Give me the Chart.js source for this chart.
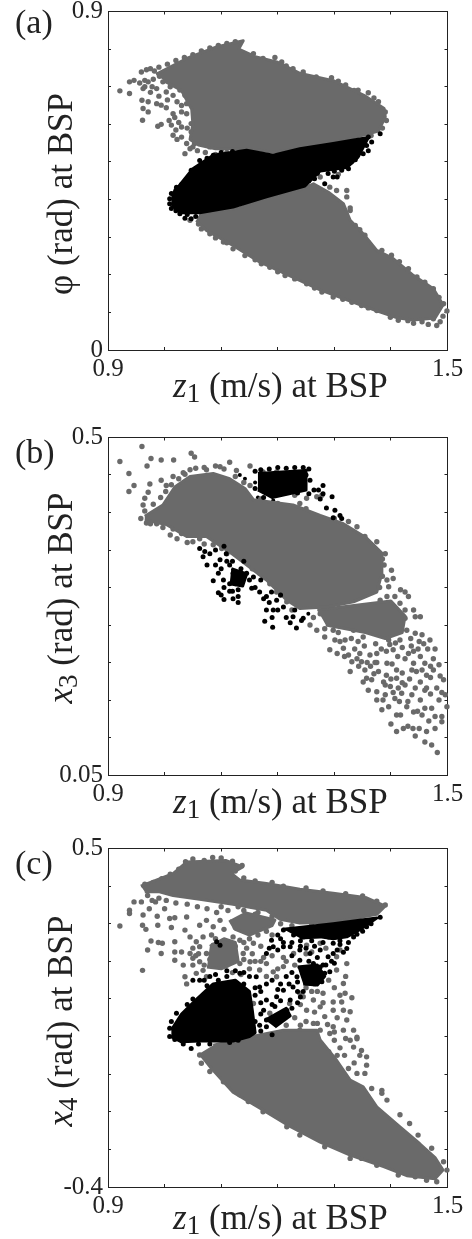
<!DOCTYPE html>
<html><head><meta charset="utf-8">
<style>
html,body{margin:0;padding:0;background:#fff}
#page{position:relative;width:472px;height:1239px;overflow:hidden;font-family:"Liberation Serif",serif;color:#222}
canvas{position:absolute;left:0}
.t{position:absolute;white-space:nowrap;line-height:1}
.tag{font-size:34px;left:15px}
.xt{font-size:35px;left:173px}
.yt{font-size:35px;transform:translate(-50%,-50%) rotate(-90deg);left:60px}
sub{font-size:27px;line-height:0;vertical-align:-5px;font-style:normal}
</style></head><body>
<div id="page">
<canvas id="ca" width="472" height="410" style="top:0"></canvas>
<canvas id="cb" width="472" height="410" style="top:410px"></canvas>
<canvas id="cc" width="472" height="409" style="top:830px"></canvas>
<div class="t tag" style="top:5px">(a)</div>
<div class="t tag" style="top:435px">(b)</div>
<div class="t tag" style="top:846px">(c)</div>
<div class="t xt" style="top:368px"><i>z</i><sub>1</sub> (m/s) at BSP</div>
<div class="t xt" style="top:784px"><i>z</i><sub>1</sub> (m/s) at BSP</div>
<div class="t xt" style="top:1200px"><i>z</i><sub>1</sub> (m/s) at BSP</div>
<div class="t yt" style="top:194px">φ (rad) at BSP</div>
<div class="t yt" style="top:598px"><i>x</i><sub>3</sub> (rad) at BSP</div>
<div class="t yt" style="top:1021px"><i>x</i><sub>4</sub> (rad) at BSP</div>
</div>
<script src="https://cdn.jsdelivr.net/npm/chart.js@4"></script>
<script>
const xTickLabels=['0.9','1.5'];
const aTickLabels=['0','0.9'];
const bTickLabels=['0.05','0.5'];
const cTickLabels=['-0.4','0.5'];

/* ---------- panel (a) ---------- */
const aBlackAreas=[
 [[1.012,.411],[1.05,.482],[1.086,.518],[1.145,.531],[1.192,.518],[1.239,.535],[1.298,.549],[1.36,.565],[1.342,.513],[1.322,.485],[1.275,.476],[1.248,.436],[1.18,.407],[1.121,.38],[1.062,.365],[1.03,.365],[1.012,.385]]
];
const aBlackDots=[[1.381,.575],[1.366,.553],[1.357,.544],[1.36,.566],[1.351,.522],[1.337,.506],[1.325,.482],[1.313,.478],[1.298,.46],[1.283,.442],[1.289,.469],[1.012,.416],[1.009,.389],[1.012,.376],[1.027,.362],[1.047,.349],[1.021,.433],[1.047,.478],[1.062,.504],[1.086,.518],[1.33,.5],[1.345,.535],[1.265,.455],
 [1.02,.425],[1.03,.44],[1.04,.455],[1.055,.475],[1.065,.495],[1.075,.51],[1.1,.525],[1.12,.528],[1.02,.37],[1.04,.36],[1.055,.355],[1.35,.55],[1.34,.53],[1.33,.52],[1.31,.49],[1.3,.475],[1.27,.47],[1.255,.45],[1.24,.44],[1.017,.4],[1.009,.402],[1.036,.35],[1.315,.505],[1.36,.53],[1.305,.46]];
const aGrayAreas=[
 [[.985,.733],[1.039,.775],[1.092,.806],[1.139,.822],[1.131,.8],[1.16,.78],[1.2,.765],[1.24,.735],[1.3,.715],[1.355,.675],[1.388,.642],[1.39,.62],[1.378,.582],[1.328,.562],[1.298,.55],[1.239,.535],[1.192,.526],[1.15,.535],[1.09,.535],[1.06,.545],[1.045,.56],[1.05,.6],[1.048,.64],[1.03,.69],[1.0,.715]],
 [[1.062,.362],[1.133,.378],[1.18,.407],[1.239,.426],[1.263,.442],[1.289,.42],[1.316,.389],[1.328,.345],[1.351,.309],[1.375,.265],[1.404,.243],[1.44,.198],[1.475,.163],[1.492,.12],[1.478,.085],[1.44,.08],[1.41,.086],[1.375,.104],[1.328,.13],[1.275,.16],[1.216,.201],[1.168,.234],[1.121,.278],[1.074,.318],[1.056,.345]]
];
const aGrayDots=[[.921,.689],[.938,.682],[.938,.713],[.946,.717],[.959,.739],[.965,.717],[.956,.71],[.971,.713],[.962,.695],[.96,.664],[.971,.66],[.962,.642],[.971,.633],[.961,.611],[.988,.595],[.994,.6],[.986,.655],[.994,.651],[1.003,.644],[.986,.695],[.997,.713],[1.009,.717],[.991,.728],[1.015,.739],[1.003,.686],[1.015,.677],[1.027,.691],[1.036,.677],[1.045,.664],[1.05,.699],[1.056,.726],[1.068,.735],[1.027,.722],[1.062,.682],[1.068,.655],[1.077,.691],[1.086,.717],[1.098,.753],[1.109,.77],[1.121,.766],[1.133,.784],[1.157,.788],[1.174,.775],[1.195,.778],[1.207,.766],[1.227,.748],[1.245,.739],[1.268,.726],[1.295,.724],[1.307,.715],[1.342,.691],[1.36,.684],[1.378,.66],[1.39,.633],[1.015,.628],[1.018,.618],[1.03,.633],[1.03,.593],[1.039,.628],[1.047,.602],[1.015,.571],[1.03,.566],[1.047,.58],[1.039,.549],[1.036,.522],[1.053,.549],[1.068,.566],[1.062,.602],[1.077,.628],[1.086,.589],[1.095,.557],[1.08,.54],[1.101,.535],[1.115,.562],[1.118,.54],[1.092,.597],[1.056,.628],[1.077,.66],[1.056,.646],[1.039,.655],[1.086,.673],[1.098,.695],[1.121,.73],[1.145,.748],[1.157,.726],
 [1.065,.322],[1.08,.309],[1.104,.287],[1.121,.269],[1.142,.251],[1.171,.229],[1.186,.22],[1.213,.198],[1.23,.189],[1.251,.176],[1.278,.154],[1.298,.141],[1.331,.127],[1.348,.118],[1.375,.105],[1.399,.087],[1.413,.079],[1.44,.071],[1.466,.068],[1.481,.065],[1.475,.083],[1.499,.104],[1.493,.123],[1.475,.163],[1.446,.194],[1.431,.216],[1.401,.252],[1.384,.265],[1.354,.305],[1.337,.331],[1.328,.371],[1.304,.389],
 [1.292,.433],[1.304,.424],[1.322,.424],[1.322,.407],[1.31,.389],[1.328,.378],[1.289,.407],
 [1.127,.522],[1.174,.417],[1.074,.38],[1.275,.46],[1.307,.467],
 [.975,.748],[.99,.752],[1.005,.76],[1.02,.77],[1.035,.778],[1.05,.785],[1.065,.795],[1.08,.803],[1.095,.81],[1.11,.815],[1.125,.82],[1.12,.79],[1.105,.78],[1.15,.775],[1.17,.76],[1.19,.76],[1.215,.755],[1.26,.72],[1.285,.715],[1.32,.705],[1.335,.69],[1.37,.67],
 [.968,.745],[.982,.742],[1.0,.74],[.978,.7],[.975,.685],[.99,.675],[1.005,.665],[1.01,.7],[1.022,.66],[1.03,.65],[1.025,.605],[1.012,.598],[1.02,.585],[1.04,.59],[1.022,.56],[1.008,.61],[.98,.72],[.965,.7],[1.036,.7],[1.042,.73],[1.052,.755],[1.07,.765],[1.082,.75],
 [1.05,.54],[1.045,.535],[1.058,.53],[1.072,.525],[1.09,.52],[1.11,.525],[1.14,.525],[1.16,.525],[1.21,.52],[1.26,.53],[1.32,.55],[1.365,.57],[1.385,.59],[1.392,.61],
 [1.045,.345],[1.06,.335],[1.09,.298],[1.11,.285],[1.16,.24],[1.2,.208],[1.265,.165],[1.315,.135],[1.36,.112],[1.43,.078],[1.455,.075],[1.42,.09],[1.487,.075],[1.492,.09],[1.465,.09],[1.485,.14],[1.46,.18],[1.415,.235],[1.36,.285],[1.345,.32]];

/* ---------- panel (b) ---------- */
const bBlackAreas=[
 [[1.165,.452],[1.25,.456],[1.25,.43],[1.19,.42],[1.165,.43]],
 [[1.118,.325],[1.145,.318],[1.138,.302],[1.115,.305]]
];
const bBlackDots=[[1.086,.309],[1.095,.319],[1.098,.337],[1.071,.348],[1.062,.352],[1.068,.341],[1.109,.345],[1.115,.33],[1.121,.319],[1.104,.31],[1.095,.293],[1.105,.284],[1.121,.285],[1.13,.288],[1.13,.297],[1.115,.305],[1.133,.31],[1.145,.319],[1.157,.314],[1.154,.299],[1.168,.294],[1.18,.288],[1.189,.294],[1.198,.283],[1.18,.27],[1.192,.27],[1.21,.274],[1.227,.261],[1.245,.259],[1.177,.255],[1.191,.247],[1.222,.253],[1.233,.246],[1.242,.256],
 [1.257,.443],[1.264,.43],[1.272,.43],[1.28,.436],[1.28,.425],[1.296,.421],[1.286,.406],[1.301,.403],[1.31,.396],[1.313,.392],[1.275,.418],[1.298,.393],[1.255,.425],
 [1.09,.33],[1.1,.325],[1.11,.335],[1.105,.3],[1.115,.295],[1.125,.305],[1.135,.325],[1.14,.335],[1.1,.29],[1.12,.295],[1.13,.28],[1.16,.3],[1.17,.31],[1.175,.285],[1.185,.28],[1.205,.29],[1.2,.27],[1.215,.26],[1.19,.26],[1.23,.27],[1.15,.31],[1.08,.345],[1.075,.33],[1.09,.35],[1.105,.355],[1.12,.335],[1.13,.32],
 [1.16,.455],[1.17,.457],[1.185,.458],[1.2,.46],[1.215,.459],[1.23,.46],[1.245,.46],[1.255,.458],[1.25,.45],[1.245,.438],[1.175,.42],[1.16,.432],[1.205,.425],[1.22,.428],[1.235,.426]];
const bGrayAreas=[
 [[.965,.395],[.997,.41],[1.018,.434],[1.045,.448],[1.086,.452],[1.115,.445],[1.142,.432],[1.157,.417],[1.227,.41],[1.275,.396],[1.316,.385],[1.357,.366],[1.384,.346],[1.384,.319],[1.375,.294],[1.334,.281],[1.286,.274],[1.239,.272],[1.216,.283],[1.18,.31],[1.121,.344],[1.074,.368],[1.039,.368],[1.003,.384],[.965,.39]],
 [[1.27,.27],[1.4,.282],[1.425,.262],[1.42,.24],[1.39,.232],[1.355,.24],[1.32,.245],[1.285,.25]]
];
const bGrayDots=[[.96,.488],[.921,.468],[.976,.472],[.994,.47],[1.016,.47],[1.047,.479],[1.053,.474],[.969,.462],[.937,.452],[.946,.436],[.974,.438],[.994,.443],[.937,.428],[.971,.427],[1.003,.436],[.965,.419],[.962,.41],[1.015,.448],[1.033,.453],[1.045,.457],[1.074,.457],[1.098,.461],[1.115,.467],[1.151,.462],[1.127,.456],[1.151,.436],[1.174,.454],[1.198,.454],[1.213,.448],[1.204,.433],[1.222,.434],[1.18,.428],[1.23,.423],[1.269,.421],[1.278,.423],[1.251,.419],[1.239,.412],
 [.968,.386],[.986,.385],[.997,.38],[1.01,.37],[1.03,.372],[1.05,.361],[1.086,.357],[1.062,.365],[1.101,.352],[1.133,.341],[1.148,.332],[1.168,.319],[1.186,.305],[1.198,.294],[1.216,.281],[1.34,.381],[1.354,.368],[1.375,.361],[1.39,.345],
 [1.401,.323],[1.404,.312],[1.393,.31],[1.396,.301],[1.417,.297],[1.425,.294],[1.431,.288],[1.407,.288],[1.393,.288],[1.381,.283],[1.416,.279],[1.44,.27],[1.452,.261],[1.425,.27],[1.404,.27],[1.387,.27],[1.369,.265],[1.348,.265],[1.322,.27],[1.298,.265],[1.275,.265],[1.443,.261],[1.425,.259],[1.404,.259],[1.387,.259],[1.357,.259],
 [1.257,.25],[1.269,.243],[1.283,.234],[1.292,.217],[1.301,.23],[1.31,.228],[1.319,.23],[1.316,.219],[1.325,.21],[1.331,.201],[1.328,.188],[1.345,.212],[1.348,.201],[1.354,.19],[1.363,.21],[1.357,.179],[1.351,.174],[1.375,.212],[1.378,.188],[1.366,.177],[1.36,.163],[1.393,.199],[1.387,.174],[1.399,.168],[1.396,.23],[1.404,.217],[1.41,.19],[1.41,.179],[1.425,.205],[1.416,.23],[1.431,.212],[1.44,.199],[1.452,.208],[1.46,.199],[1.475,.205],[1.469,.23],[1.455,.237],[1.443,.239],[1.428,.243],[1.413,.241],[1.387,.239],[1.369,.241],[1.351,.234],[1.334,.243],[1.298,.243],[1.475,.19],[1.463,.183],[1.452,.174],[1.443,.166],[1.425,.17],[1.413,.166],[1.375,.15],[1.39,.157],[1.407,.152],[1.419,.159],[1.437,.157],[1.452,.15],[1.46,.139],[1.472,.139],[1.493,.177],[1.496,.157],[1.499,.141],[1.49,.128],[1.49,.121],[1.478,.112],[1.463,.108],[1.46,.094],[1.472,.09],[1.482,.08],[1.443,.102],[1.439,.112],[1.422,.112],[1.41,.108],[1.384,.137],[1.396,.141],[1.41,.13],[1.428,.141],[1.44,.134],[1.455,.13],[1.375,.161],[1.481,.166],[1.463,.166],
 [.965,.402],[.98,.411],[.993,.42],[1.002,.428],[1.012,.437],[1.025,.445],[1.036,.451],[1.055,.459],[1.07,.46],[1.09,.462],[1.105,.458],[1.125,.448],[1.14,.44],[.958,.392],[.975,.385],[1.015,.378],[1.022,.365],[1.04,.36],[1.07,.358],[1.11,.345],[1.155,.325],[1.205,.29],[1.225,.27],
 [1.17,.418],[1.2,.412],[1.25,.405],[1.3,.392],[1.325,.388],[1.385,.338],[1.388,.33],[1.385,.315],[1.38,.3],
 [1.19,.445],[1.225,.45],[1.24,.44],
 [1.263,.26],[1.283,.245],[1.307,.24],[1.342,.228],[1.305,.212],[1.343,.195],[1.372,.2],[1.383,.218],[1.402,.198],[1.408,.226],[1.436,.222],[1.448,.218],[1.465,.218],[1.478,.218],[1.458,.225],[1.485,.197],[1.487,.182],[1.445,.188],[1.433,.178],[1.42,.186],[1.392,.183],[1.404,.16],[1.386,.15],[1.43,.148],[1.47,.158],[1.485,.15],[1.447,.135],[1.417,.13],[1.4,.118],[1.43,.115],[1.467,.122],[1.49,.16],[1.45,.112],[1.415,.148],[1.364,.195],[1.336,.218],[1.318,.208],[1.47,.18],[1.46,.163],[1.478,.128],
 [1.33,.232],[1.353,.222],[1.373,.225],[1.392,.215],[1.412,.208],[1.375,.2],[1.398,.224],[1.44,.215],[1.42,.22],[1.435,.232],[1.45,.228],[1.34,.205],[1.358,.2],[1.37,.185],[1.39,.17],[1.4,.178],[1.42,.173],[1.437,.19],[1.455,.19],[1.47,.195]];
const bBlackFront=[[1.021,.399],[1.086,.394],[1.071,.393],[1.059,.405],[1.133,.401],[1.092,.448],[1.115,.441],[1.133,.45],[1.142,.445],[1.286,.297],[1.301,.308],[1.328,.305],[1.322,.293],[1.351,.274],[1.298,.274],[1.254,.265],[1.192,.416],[1.05,.41],[1.035,.4],[1.1,.405],[1.15,.41],[1.16,.44],[1.125,.425],[1.105,.435],[1.165,.42],[1.27,.28],[1.31,.285]];

/* ---------- panel (c) ---------- */
const cBlackAreas=[
 [[1.012,.017],[1.03,.06],[1.056,.098],[1.086,.14],[1.125,.15],[1.15,.12],[1.155,.07],[1.16,.01],[1.15,0],[1.121,-.012],[1.062,-.012],[1.03,-.014],[1.012,0]],
 [[1.21,.285],[1.298,.3],[1.375,.315],[1.348,.287],[1.322,.265],[1.298,.26],[1.275,.265],[1.239,.262]],
 [[1.235,.185],[1.27,.19],[1.283,.16],[1.27,.137],[1.245,.14]],
 [[1.178,.044],[1.215,.075],[1.222,.055],[1.195,.025]]
];
const cBlackDots=[[1.18,.221],[1.192,.239],[1.189,.256],[1.21,.239],[1.228,.27],[1.239,.203],[1.251,.177],[1.263,.194],[1.275,.185],[1.283,.168],[1.292,.172],[1.278,.146],[1.251,.15],[1.234,.159],[1.227,.132],[1.21,.123],[1.198,.106],[1.18,.097],[1.222,.097],[1.216,.07],[1.198,.052],[1.18,.044],[1.168,.03],[1.18,.026],[1.168,.132],[1.162,.159],[1.133,.168],[1.092,.252],[1.098,.243],[1.062,.15],[1.05,.15],[1.322,.234],[1.316,.224],[1.298,.221],[1.289,.212],[1.28,.19],[1.334,.265],[1.357,.292],[1.381,.317],[1.298,.248],[1.275,.23],[1.257,.221],[1.239,.23],[1.222,.239],[1.21,.283],[1.009,.022],[1.009,0],[1.033,-.02],[1.047,-.032],[1.115,-.016],[1.021,.062],
 [1.04,.085],[1.05,.1],[1.075,.135],[1.095,.15],[1.11,.16],[1.14,.14],[1.16,.11],[1.17,.09],[1.175,.07],[1.19,.085],[1.205,.095],[1.235,.12],[1.22,.14],[1.245,.17],[1.24,.255],[1.26,.255],[1.28,.25],[1.31,.255],[1.225,.215],[1.205,.26],[1.255,.2],[1.3,.195],[1.27,.21],[1.245,.12],[1.2,.125],[1.17,.06],[1.14,.005],[1.13,-.01],[1.08,-.02],[1.06,-.02],[1.018,-.008],[1.012,.04],
 [1.17,.12],[1.18,.14],[1.19,.15],[1.205,.14],[1.215,.16],[1.225,.17],[1.235,.145],[1.26,.17],[1.27,.165],[1.285,.19],[1.295,.2],[1.305,.23],[1.31,.245],[1.325,.25],[1.34,.272],[1.35,.28],[1.365,.3],[1.31,.27],[1.29,.265],[1.265,.24],[1.25,.235],[1.24,.24],[1.225,.25],[1.21,.25],[1.2,.27],[1.185,.235],[1.2,.23],[1.195,.08],[1.21,.06],[1.225,.075],[1.235,.09],[1.24,.105],[1.16,.04],[1.17,.015],[1.19,.005],[1.16,.13],[1.15,.16],[1.125,.175],[1.11,.175],[1.09,.165],[1.08,.16],[1.07,.15],[1.14,.17]];
const cGrayAreas=[
 [[.958,.4],[1.015,.433],[1.039,.464],[1.109,.468],[1.138,.451],[1.118,.434],[1.133,.416],[1.18,.407],[1.239,.392],[1.298,.381],[1.357,.369],[1.39,.347],[1.375,.325],[1.298,.304],[1.239,.302],[1.204,.312],[1.18,.336],[1.121,.352],[1.062,.365],[1.015,.375],[.991,.385],[.965,.385]],
 [[1.086,-.023],[1.168,.004],[1.21,.017],[1.269,.017],[1.275,-.009],[1.304,-.063],[1.328,-.116],[1.351,-.134],[1.375,-.187],[1.416,-.24],[1.451,-.285],[1.478,-.322],[1.492,-.355],[1.478,-.378],[1.428,-.37],[1.387,-.346],[1.328,-.315],[1.275,-.281],[1.216,-.234],[1.168,-.19],[1.121,-.148],[1.083,-.085],[1.062,-.045]],
 [[1.08,.24],[1.105,.26],[1.125,.25],[1.13,.2],[1.1,.18],[1.075,.185]],
 [[1.14,.33],[1.195,.31],[1.19,.295],[1.15,.27],[1.125,.285],[1.115,.31]]
];
const cGrayDots=[[.921,.294],[.961,.176],[.946,.358],[.938,.336],[.938,.327],[.959,.358],[.962,.323],[.961,.296],[.967,.285],[.973,.34],[.984,.358],[.987,.32],[.988,.296],[.976,.254],[.97,.23],[.989,.25],[.996,.248],[.994,.221],[1,.34],[1.009,.314],[1.018,.316],[1.012,.29],[1.039,.318],[1.036,.283],[1.018,.252],[1.018,.225],[1.03,.225],[1.018,.203],[1.033,.19],[1.036,.159],[1.039,.14],[1.045,.221],[1.045,.265],[1.056,.252],[1.062,.296],[1.074,.309],[1.086,.292],[1.098,.309],[1.068,.265],[1.083,.27],[1.062,.239],[1.074,.221],[1.086,.243],[1.05,.208],[1.062,.199],[1.068,.176],[1.086,.19],[1.056,.168],[1.074,.159],[1.098,.185],[1.109,.208],[1.115,.239],[1.133,.256],[1.121,.265],[1.151,.283],[1.174,.292],[1.157,.248],[1.139,.221],[1.133,.194],[1.151,.199],[1.168,.177],[1.18,.194],[1.192,.172],[1.198,.159],[1.21,.186],[1.228,.221],[1.251,.243],[1.275,.248],[1.298,.274],[1.304,.212],[1.322,.194],[1.304,.177],[1.316,.141],[1.319,.115],[1.331,.103],[1.313,.092],[1.298,.092],[1.316,.07],[1.328,.066],[1.298,.07],[1.322,.044],[1.334,.017],[1.34,-.002],[1.316,.017],[1.298,.026],[1.283,.053],[1.275,.079],[1.263,.097],[1.245,.106],[1.239,.115],[1.251,.07],[1.221,.088],[1.263,.035],[1.275,.017],[1.292,.008],[1.239,.017],[1.186,.062],[1.201,.048],[1.092,.039],[1.157,.088],
 [1.357,-.054],[1.348,-.037],[1.334,-.028],[1.328,-.01],[1.34,-.006],[1.357,-.076],[1.34,-.098],[1.354,-.098],[1.366,-.138],[1.384,-.143],[1.384,-.151],[1.393,-.169],[1.416,-.208],[1.433,-.231],[1.448,-.262],[1.472,-.297],[1.499,-.355],[1.493,-.333],[1.481,-.386],[1.463,-.382],[1.443,-.373],[1.413,-.368],[1.375,-.342],[1.348,-.324],[1.328,-.324],[1.283,-.293],[1.239,-.262],[1.216,-.24],[1.174,-.2],[1.148,-.173],[1.133,-.155],[1.104,-.12],[1.08,-.093],[1.065,-.071],[1.062,-.049],
 [.965,.405],[.98,.41],[.995,.42],[1.01,.432],[1.025,.445],[1.037,.465],[1.05,.472],[1.07,.468],[1.085,.476],[1.1,.475],[1.12,.466],[1.137,.455],[1.125,.44],[1.14,.422],[1.16,.414],[1.19,.41],[1.21,.4],[1.25,.395],[1.28,.387],[1.32,.38],[1.35,.374],[1.375,.36],[1.39,.35],
 [.97,.375],[.978,.362],[.99,.368],[1.003,.362],[1.02,.355],[1.04,.352],[1.058,.345],[1.075,.34],[1.092,.33],[1.112,.335],[1.14,.335],[1.16,.325],[1.19,.32],[1.225,.295],[1.26,.298],[1.32,.295],[1.35,.305],
 [1.05,.235],[1.055,.215],[1.09,.26],[1.105,.285],[1.125,.29],[1.145,.235],[1.155,.22],[1.17,.24],[1.135,.165],[1.15,.18],[1.17,.2],[1.19,.215],[1.21,.21],[1.245,.265],[1.27,.272],[1.29,.285],[1.25,.13],[1.26,.12],[1.265,.14],[1.3,.13],[1.32,.16],[1.28,.115],[1.28,.09],[1.265,.065],[1.24,.085],[1.23,.05],[1.215,.03],[1.25,.04],[1.288,.032],[1.305,.05],[1.3,.012],[1.32,-.005],[1.31,-.03],[1.318,-.05],[1.345,-.05],[1.335,-.07],[1.325,-.085],
 [1.05,.19],[1.06,.22],[1.07,.19],[1.08,.205],[1.1,.205],[1.11,.19],[1.12,.215],[1.125,.24],[1.14,.25],[1.15,.26],[1.165,.27],[1.18,.28],[1.19,.27],[1.16,.2],[1.175,.21],[1.14,.205],[1.18,.16],[1.2,.18],[1.215,.2],[1.23,.19],[1.25,.22],[1.26,.225],[1.285,.235],[1.31,.23],[1.28,.27],[1.3,.285],[1.24,.28],[1.26,.285],[1.33,.29],[1.34,.31],
 [1.1,.345],[1.13,.345],[1.165,.33],[1.205,.3],[1.25,.31],[1.31,.31],[1.345,.32],[1.12,.17],[1.27,.12],[1.29,.15],[1.31,.11],[1.27,.035],[1.26,.005],[1.24,.03],[1.3,-.01],[1.29,-.04],[1.305,-.05]];

const GRAY='#6a6a6a', BLACK='#000000', INK='#222222';

function areaSet(pts,col){return {data:pts.map(p=>({x:p[0],y:p[1]})),showLine:true,fill:'shape',backgroundColor:col,borderColor:col,borderWidth:3,borderJoinStyle:'round',pointRadius:0,tension:0};}
function dotSet(pts,col,r){return {data:pts.map(p=>({x:p[0],y:p[1]})),showLine:false,backgroundColor:col,borderColor:col,borderWidth:0,pointRadius:r,clip:false};}

function panel(id,top,bottomGap,yMin,yMax,yStep,yLabels,sets){
  const axisGrid={drawOnChartArea:false,drawTicks:true,tickLength:-3,color:INK,lineWidth:1};
  const border={color:INK,width:1};
  const font={family:'"Liberation Serif", serif',size:25};
  const noPad=s=>{s.paddingTop=0;s.paddingBottom=0;s.paddingLeft=0;s.paddingRight=0;};
  new Chart(document.getElementById(id),{
    type:'scatter',
    data:{datasets:sets},
    options:{
      responsive:false,animation:false,devicePixelRatio:1,events:[],
      layout:{padding:0},
      plugins:{legend:{display:false},tooltip:{enabled:false}},
      scales:{
        x:{type:'linear',position:'bottom',min:.9,max:1.5,border,grid:axisGrid,
           ticks:{stepSize:.1,autoSkip:false,maxRotation:0,minRotation:0,color:INK,font,padding:7,
             callback:(v,i,t)=>i===0?xTickLabels[0]:(i===t.length-1?xTickLabels[1]:'')},
           afterFit:s=>{s.height=bottomGap;noPad(s);}},
        x2:{type:'linear',position:'top',min:.9,max:1.5,border,grid:axisGrid,
           ticks:{stepSize:.1,display:false},afterFit:s=>{s.height=top;noPad(s);}},
        y:{type:'linear',position:'left',min:yMin,max:yMax,border,grid:axisGrid,
           ticks:{stepSize:yStep,autoSkip:false,color:INK,font,padding:8,
             callback:(v,i,t)=>i===0?yLabels[0]:(i===t.length-1?yLabels[1]:'')},
           afterFit:s=>{s.width=108;noPad(s);}},
        y2:{type:'linear',position:'right',min:yMin,max:yMax,border,grid:axisGrid,
           ticks:{stepSize:yStep,display:false},afterFit:s=>{s.width=24.5;noPad(s);}}
      }
    }
  });
}
function build(bA,bD,gA,gD,front){
  const out=[...bA.map(a=>areaSet(a,BLACK)),dotSet(bD,BLACK,2.5),...gA.map(a=>areaSet(a,GRAY)),dotSet(gD,GRAY,2.7)];
  if(front) out.push(dotSet(front,BLACK,2));
  return out;
}
panel('ca',11.5,60,0,.9,.1,aTickLabels,build(aBlackAreas,aBlackDots,aGrayAreas,aGrayDots));
panel('cb',27.5,45,.05,.5,.05,bTickLabels,build(bBlackAreas,bBlackDots,bGrayAreas,bGrayDots,bBlackFront));
panel('cc',18.5,52,-.4,.5,.1,cTickLabels,build(cBlackAreas,cBlackDots,cGrayAreas,cGrayDots));
</script>
</body></html>
